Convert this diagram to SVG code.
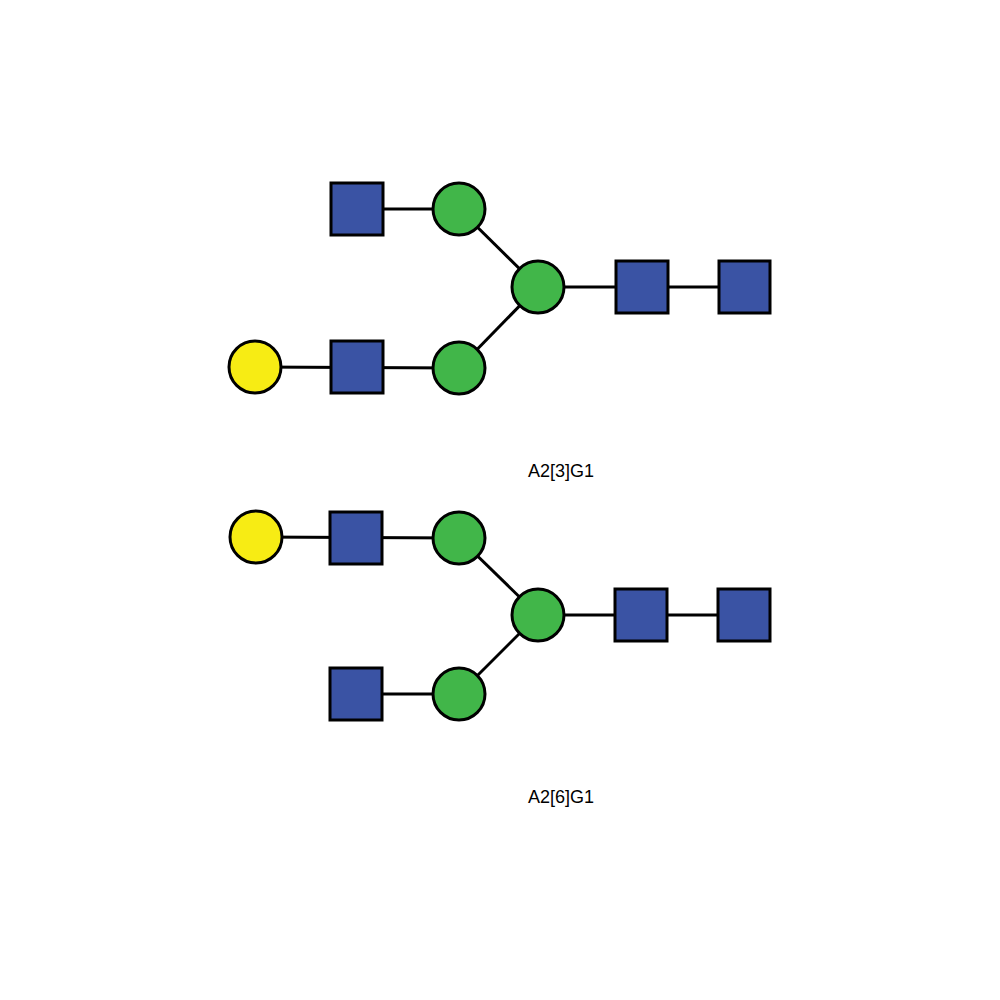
<svg xmlns="http://www.w3.org/2000/svg" width="1000" height="1000" viewBox="0 0 1000 1000">
<style>
.sq{fill:#3A53A4;stroke:#000;stroke-width:3}
.gc{fill:#41B649;stroke:#000;stroke-width:3}
.yc{fill:#F7EC14;stroke:#000;stroke-width:3}
.ln{stroke:#000;stroke-width:3;fill:none}
.lb{font-family:"Liberation Sans",Arial,sans-serif;font-size:18px;fill:#000;text-anchor:middle}
</style>
<rect width="1000" height="1000" fill="#fff"/>
<g id="connectors">
<line class="ln" x1="357" y1="209" x2="459" y2="209"/>
<line class="ln" x1="459" y1="209" x2="538" y2="287"/>
<line class="ln" x1="538" y1="287" x2="745" y2="287"/>
<line class="ln" x1="459" y1="368" x2="538" y2="287"/>
<line class="ln" x1="255" y1="367" x2="459" y2="368"/>
<line class="ln" x1="256" y1="537" x2="459" y2="538"/>
<line class="ln" x1="459" y1="538" x2="538" y2="615"/>
<line class="ln" x1="538" y1="615" x2="744" y2="615"/>
<line class="ln" x1="459" y1="694" x2="538" y2="615"/>
<line class="ln" x1="356" y1="694" x2="459" y2="694"/>
</g>
<g id="t_sqA"><rect class="sq" x="331" y="183" width="52" height="52"/></g>
<g id="t_cB"><circle class="gc" cx="459" cy="209" r="26"/></g>
<g id="t_core"><circle class="gc" cx="538" cy="287" r="26"/></g>
<g id="t_sqD"><rect class="sq" x="616" y="261" width="52" height="52"/></g>
<g id="t_sqE"><rect class="sq" x="719" y="261" width="51" height="52"/></g>
<g id="t_cF"><circle class="gc" cx="459" cy="368" r="26"/></g>
<g id="t_sqG"><rect class="sq" x="331" y="341" width="52" height="52"/></g>
<g id="t_yH"><circle class="yc" cx="255" cy="367" r="26"/></g>
<g id="t_label"><text class="lb" x="561" y="477">A2[3]G1</text></g>
<g id="b_yA"><circle class="yc" cx="256" cy="537" r="26"/></g>
<g id="b_sqB"><rect class="sq" x="330" y="512" width="52" height="52"/></g>
<g id="b_cC"><circle class="gc" cx="459" cy="538" r="26"/></g>
<g id="b_core"><circle class="gc" cx="538" cy="615" r="26"/></g>
<g id="b_sqD"><rect class="sq" x="615" y="589" width="52" height="52"/></g>
<g id="b_sqE"><rect class="sq" x="718" y="589" width="52" height="52"/></g>
<g id="b_cF"><circle class="gc" cx="459" cy="694" r="26"/></g>
<g id="b_sqG"><rect class="sq" x="330" y="668" width="52" height="52"/></g>
<g id="b_label"><text class="lb" x="561" y="803">A2[6]G1</text></g>
</svg>
